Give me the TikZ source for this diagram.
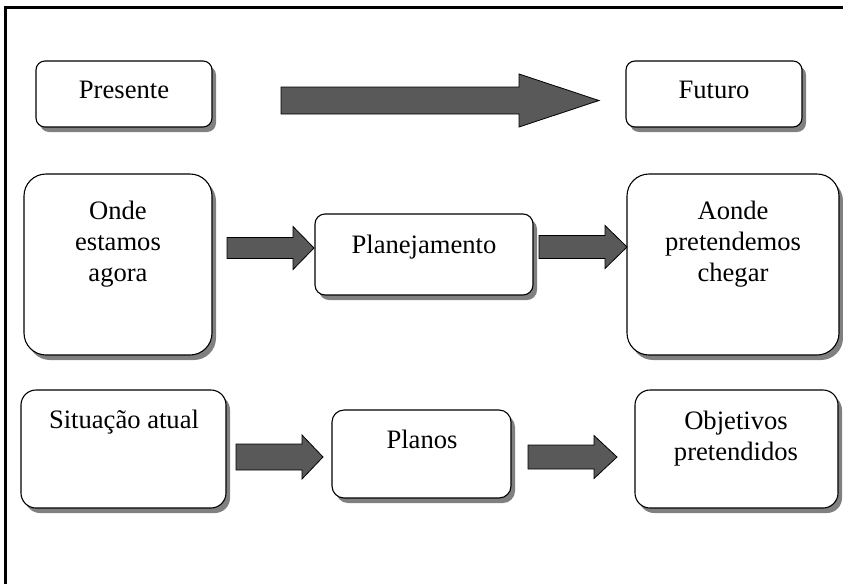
\documentclass[tikz,border=0pt]{standalone}
\usepackage{fontspec}
\setmainfont{Liberation Serif}
\usetikzlibrary{shadows}

% shaded rounded box: #1 = corner radius
\tikzset{
  box/.style={draw=black, line width=1.1pt, fill=white, rounded corners=#1,
    inner sep=0pt, outer sep=0pt,
    drop shadow={shadow xshift=4pt, shadow yshift=-5pt, fill=black!50, opacity=1}},
  label/.style={font=\fontsize{26.6}{31}\selectfont, align=center, anchor=base,
    inner sep=0pt},
  blockarr/.style={draw=black, line width=0.8pt, fill=black!65, line join=miter},
  frameline/.style={draw=black, line width=2.4pt, line join=miter}
}

% block arrow: tail x, head base x, tip x, centre y, shaft half width, head half width
\newcommand{\blockarrow}[6]{%
  \path[blockarr] (#1,#4-#5) -- (#2,#4-#5) -- (#2,#4-#6) -- (#3,#4)
    -- (#2,#4+#6) -- (#2,#4+#5) -- (#1,#4+#5) -- cycle;}

% box from its top-left corner: name, x, y, width, height, radius
\newcommand{\roundbox}[6]{%
  \node[box=#6, minimum width=#4pt, minimum height=#5pt, anchor=north west]
    (#1) at (#2,#3) {};}

\begin{document}
\begin{tikzpicture}[x={(1pt,0)}, y={(0,-1pt)}]
  \useasboundingbox (0,0) rectangle (843,584);

  % outer frame (top and left edges)
  \draw[frameline] (5.3,584) -- (5.3,7.6) -- (843,7.6);

  % top row
  \roundbox{presente}{36}{61}{176}{66}{9pt}
  \roundbox{futuro}{626}{61}{176}{66}{9pt}
  \node[label] (presente-t) at (124,98) {Presente};
  \node[label] (futuro-t) at (714,98) {Futuro};
  \blockarrow{281}{519}{599}{100.5}{13.5}{26.5}

  % middle row (multi-line labels are placed by their last baseline)
  \roundbox{onde}{24}{174}{188}{181}{22pt}
  \roundbox{planej}{315}{214}{218}{81}{10pt}
  \roundbox{aonde}{627}{174}{212}{181}{22pt}
  \node[label] (onde-t) at (118,281) {Onde\\estamos\\agora};
  \node[label] (planej-t) at (424,253) {Planejamento};
  \node[label] (aonde-t) at (733,281) {Aonde\\pretendemos\\chegar};
  \blockarrow{227}{293}{314}{248}{10.5}{21.5}
  \blockarrow{539}{605}{627}{247}{11.5}{21.5}

  % bottom row
  \roundbox{situacao}{21}{390}{205}{118}{15pt}
  \roundbox{planos}{332}{410}{179}{88}{12pt}
  \roundbox{objetivos}{635}{390}{203}{118}{15pt}
  \node[label] (situacao-t) at (124,428) {Situação atual};
  \node[label] (planos-t) at (422,448) {Planos};
  \node[label] (objetivos-t) at (736,460) {Objetivos\\pretendidos};
  \blockarrow{236}{302}{323}{457}{13}{22}
  \blockarrow{528}{594}{617}{457}{12}{21.5}
\end{tikzpicture}
\end{document}
